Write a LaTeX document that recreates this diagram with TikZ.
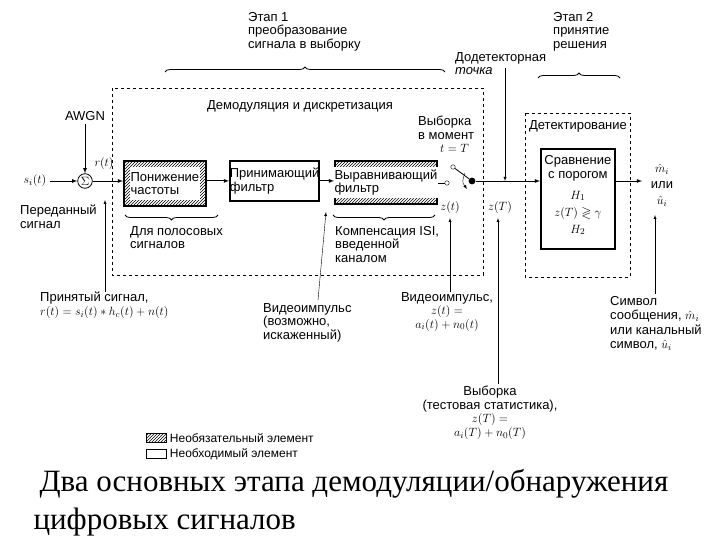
\documentclass[tikz,border=0pt]{standalone}
\usepackage{amssymb}
\usepackage{fontspec}
\setmainfont{Liberation Sans}
\newfontfamily\capfont{Liberation Serif}
\usetikzlibrary{patterns,arrows,decorations.pathreplacing}
\begin{document}
\begin{tikzpicture}[x=1pt,y=-1pt,font=\fontsize{13}{13.5}\selectfont]
  \tikzset{BLK/.style={draw, line width=1.8pt, anchor=north west, inner sep=0pt},
           HAT/.style={BLK, pattern=north east lines},
           TXT/.style={fill=white, inner sep=1pt, align=left},
           DSH/.style={draw, dashed, thick},
           LBL/.style={align=left, anchor=north west, inner sep=0pt},
           BRC/.style={decorate, decoration={brace, amplitude=5pt}, thick} }
  \useasboundingbox (0,0) rectangle (720,540);

  % stage labels
  \node[LBL] (st1) at (248,12) {Этап 1\\преобразование\\сигнала в выборку};
  \node[LBL] (st2) at (553,12) {Этап 2\\принятие\\решения};
  \draw[BRC] (165,72) -- (445,72);
  \draw[BRC] (538,78) -- (620,78);
  \node[LBL] (pd) at (455,52) {Додетекторная\\\itshape точка};

  % dashed groups
  \draw[DSH] (112,88) rectangle (483,275);
  \draw[DSH] (525,113) rectangle (630,277);
  \node (dem) at (300,106) {Демодуляция и дискретизация};
  \node (det) at (578,126) {Детектирование};

  % blocks
  \node[HAT, minimum width=82, minimum height=45] (dc) at (123,160) {};
  \node[TXT, minimum width=70, minimum height=33] at (dc) {Понижение\\частоты};
  \node[BLK, minimum width=88, minimum height=40, align=left] (rf) at (229,160) {Принимающий\\фильтр};
  \node[HAT, minimum width=102, minimum height=43] (eq) at (334,160) {};
  \node[TXT, minimum width=92, minimum height=31] at (eq) {Выравнивающий\\фильтр};
  \node[BLK, minimum width=74, minimum height=100] (cmp) at (540,148) {};
  \node[align=center, anchor=north] at ([yshift=-4]cmp.north) {Сравнение\\с порогом};
  \node[align=center, font=\fontsize{13}{17}\selectfont] at ([yshift=-14]cmp.center) {$H_1$\\$z(T)\gtrless\gamma$\\$H_2$};

  % input
  \node (awgn) at (85,116) {AWGN};
  \node[draw, thick, circle, inner sep=1pt] (sum) at (85,181) {$\Sigma$};
  \node (si) at (35,181) {$s_i(t)$};
  \node (rt) at (104,164) {$r(t)$};
  \node[LBL] (tx) at (20,205) {Переданный\\сигнал};
  \draw[->,>=latex,thick] (awgn) -- (sum);
  \draw[->,>=latex,thick] (si) -- (sum);
  \draw[->,>=latex,thick] (sum) -- (dc.west |- sum);
  \draw[->,>=latex,thick] (dc.east |- rf) -- (rf);
  \draw[->,>=latex,thick] (rf) -- (eq.west |- rf);

  % sampling switch
  \node[draw, circle, inner sep=1.6pt] (c1) at (447,183) {};
  \node[draw, circle, inner sep=1.6pt] (c2) at (453,167) {};
  \node[fill, circle, inner sep=2.4pt] (c3) at (472,181) {};
  \draw[thick] (eq.east |- c1) -- (c1);
  \draw[thick] (c2) -- (c3);
  \draw[->,>=latex] (465,173) .. controls (462,182) .. (467,189);
  \node[LBL] (smp) at (418,116) {Выборка\\в момент\\\hspace*{22pt}$t=T$};
  \draw[->,>=latex,thick] (c3) -- (cmp.west |- c3);
  \coordinate (pdt) at (505,181);
  \draw[->,>=latex] (505,68) -- (pdt);
  \node (zt) at (450,208) {$z(t)$};
  \node (zT) at (500,208) {$z(T)$};
  \coordinate (out) at (642,181);
  \draw[->,>=latex,thick] (cmp.east |- c3) -- (out);
  \node[align=center, font=\fontsize{13}{16}\selectfont] (mh) at (662,185) {$\hat m_i$\\или\\$\hat u_i$};

  % braces below
  \draw[BRC] (218,215) -- (125,215);
  \node[LBL] at (130,226) {Для полосовых\\сигналов};
  \draw[BRC] (435,215) -- (333,215);
  \node[LBL] at (335,226) {Компенсация ISI,\\введенной\\каналом};

  % notes
  \node[LBL] (rx) at (40,292) {Принятый сигнал,\\$r(t)=s_i(t)*h_c(t)+n(t)$};
  \node[LBL] (vi) at (263,303) {Видеоимпульс\\(возможно,\\искаженный)};
  \node[align=center, anchor=north, inner sep=0pt] (vz) at (447,292) {Видеоимпульс,\\$z(t)=$\\$a_i(t)+n_0(t)$};
  \node[LBL, font=\fontsize{13}{14.5}\selectfont] (sym) at (610,296) {Символ\\сообщения, $\hat m_i$\\или канальный\\символ, $\hat u_i$};
  \node[align=center, anchor=north, inner sep=0pt] (sT) at (490,386) {Выборка\\(тестовая статистика),\\$z(T)=$\\$a_i(T)+n_0(T)$};
  \draw[->,>=latex] (105,292) -- (105,200);
  \draw[->,>=latex] (318,300) -- (326,212);
  \draw[->,>=latex] (450,292) -- (450,218);
  \draw[->,>=latex] (498,384) -- (498,218);
  \draw[->,>=latex] (655,294) -- (655,215);

  % legend
  \node[draw, thick, pattern=north east lines, minimum width=20, minimum height=9, inner sep=0pt] (lg1) at (156,438) {};
  \node[draw, thick, minimum width=20, minimum height=9, inner sep=0pt] (lg2) at (156,454) {};
  \node[anchor=west, font=\fontsize{12}{12}\selectfont] at (lg1.east) {Необязательный элемент};
  \node[anchor=west, font=\fontsize{12}{12}\selectfont] at (lg2.east) {Необходимый элемент};

  % caption
  \node[anchor=west, font=\capfont\fontsize{31}{32}\selectfont] (cap1) at (36,484) {Два основных этапа демодуляции/обнаружения};
  \node[anchor=west, font=\capfont\fontsize{31}{32}\selectfont] (cap2) at (30,522) {цифровых сигналов};
\end{tikzpicture}
\end{document}
